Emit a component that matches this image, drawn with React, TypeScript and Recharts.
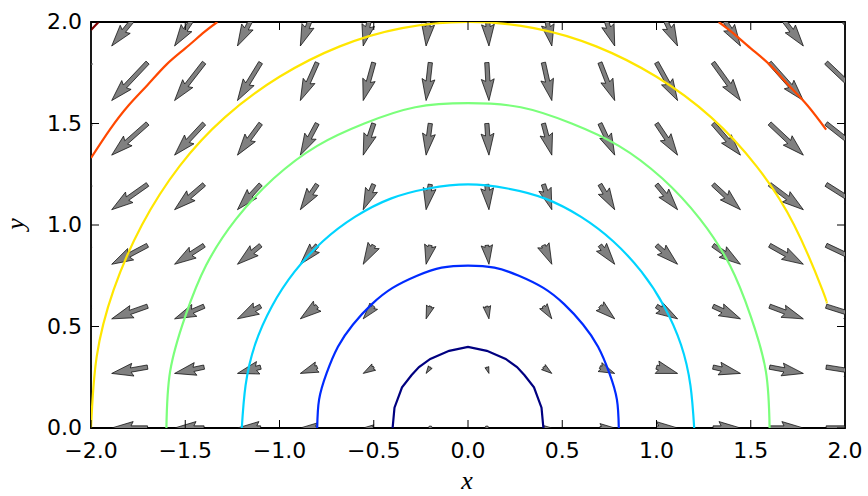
import { ComposedChart, ReferenceArea, Scatter, XAxis, YAxis } from 'recharts'

const xTicks = [-2, -1.5, -1, -0.5, 0, 0.5, 1, 1.5, 2]
const yTicks = [0, 0.5, 1, 1.5, 2]

// quiver: arrow tails sit on this grid (x step 0.3 from -2, y step 0.3 from 0)
const gridX = [-2.0, -1.7, -1.4, -1.1, -0.8, -0.5, -0.2, 0.1, 0.4, 0.7, 1.0, 1.3, 1.6, 1.9]
const gridY = [0.0, 0.3, 0.6, 0.9, 1.2, 1.5, 1.8, 2.1]
// horizontal component per column, vertical component per row
const arrowU = [-2.0, -1.7, -1.4, -1.1, -0.8, -0.5, -0.2, 0.1, 0.4, 0.7, 1.0, 1.3, 1.6, 1.9]
const arrowV = [0.0, -0.3, -0.6, -0.9, -1.2, -1.5, -1.8, -2.1]

// contour lines, one list per level
const level04: [number, number][] = [
  [-0.4, 0.0], [-0.39, 0.1], [-0.35, 0.2], [-0.3, 0.26], [-0.26, 0.3], [-0.2, 0.34],
  [-0.1, 0.38], [0.0, 0.4], [0.1, 0.38], [0.2, 0.34], [0.26, 0.3], [0.3, 0.26],
  [0.35, 0.2], [0.39, 0.1], [0.4, 0.0],
]
const level08: [number, number][] = [
  [-0.8, 0.0], [-0.79, 0.14], [-0.75, 0.27], [-0.69, 0.4], [-0.61, 0.51], [-0.51, 0.61],
  [-0.4, 0.69], [-0.27, 0.75], [-0.14, 0.79], [0.0, 0.8], [0.14, 0.79], [0.27, 0.75],
  [0.4, 0.69], [0.51, 0.61], [0.61, 0.51], [0.69, 0.4], [0.75, 0.27], [0.79, 0.14], [0.8, 0.0],
]
const level12: [number, number][] = [
  [-1.2, 0.0], [-1.18, 0.21], [-1.13, 0.41], [-1.04, 0.6], [-0.92, 0.77], [-0.77, 0.92],
  [-0.6, 1.04], [-0.41, 1.13], [-0.21, 1.18], [0.0, 1.2], [0.21, 1.18], [0.41, 1.13],
  [0.6, 1.04], [0.77, 0.92], [0.92, 0.77], [1.04, 0.6], [1.13, 0.41], [1.18, 0.21], [1.2, 0.0],
]
const level16: [number, number][] = [
  [-1.6, 0.0], [-1.58, 0.28], [-1.5, 0.55], [-1.39, 0.8], [-1.23, 1.03], [-1.03, 1.23],
  [-0.8, 1.39], [-0.55, 1.5], [-0.28, 1.58], [0.0, 1.6], [0.28, 1.58], [0.55, 1.5],
  [0.8, 1.39], [1.03, 1.23], [1.23, 1.03], [1.39, 0.8], [1.5, 0.55], [1.58, 0.28], [1.6, 0.0],
]
const level20: [number, number][] = [
  [-2.0, 0.0], [-1.97, 0.35], [-1.88, 0.68], [-1.73, 1.0], [-1.53, 1.29], [-1.29, 1.53],
  [-1.0, 1.73], [-0.68, 1.88], [-0.35, 1.97], [0.0, 2.0], [0.35, 1.97], [0.68, 1.88],
  [1.0, 1.73], [1.29, 1.53], [1.53, 1.29], [1.73, 1.0], [1.88, 0.68], [1.9, 0.62],
]
const level24Left: [number, number][] = [
  [-2.0, 1.33], [-1.9, 1.47], [-1.8, 1.59], [-1.7, 1.69], [-1.6, 1.79], [-1.5, 1.87],
  [-1.4, 1.95], [-1.33, 2.0],
]
const level24Right: [number, number][] = [
  [1.33, 2.0], [1.4, 1.95], [1.5, 1.87], [1.6, 1.79], [1.7, 1.69], [1.8, 1.59], [1.9, 1.47],
]
const level28: [number, number][] = [
  [-2.0, 1.96], [-1.96, 2.0],
]

const contours = [
  { pts: level04, color: '#000080', joint: 'linear' },
  { pts: level08, color: '#002bff', joint: 'natural' },
  { pts: level12, color: '#00d4ff', joint: 'natural' },
  { pts: level16, color: '#7bff7b', joint: 'natural' },
  { pts: level20, color: '#ffe600', joint: 'natural' },
  { pts: level24Left, color: '#ff4800', joint: 'natural' },
  { pts: level24Right, color: '#ff4800', joint: 'natural' },
  { pts: level28, color: '#800000', joint: 'linear' },
]

const PLOT_TOP = 22
const PLOT_BOTTOM = 428
const PLOT_LEFT = 91
const PLOT_RIGHT = 845
const TICK_LEN = 8
const PX_PER_UNIT = 21.1 // arrow length per unit of magnitude
const SHAFT = 4.3 // shaft width in px

const arrows = gridY.flatMap((y, j) =>
  gridX.map((x, i) => ({ x, y, u: arrowU[i], v: arrowV[j] })),
)

const fmt = (v: number) => v.toFixed(1).replace('-', '\u2212')

function Arrow(props: any) {
  const { cx, cy, payload } = props
  const dx = payload.u * PX_PER_UNIT
  const dy = -payload.v * PX_PER_UNIT
  const len = Math.hypot(dx, dy)
  const L = len / SHAFT
  let pts: [number, number][]
  if (L < 1) {
    // too short: little dot, like matplotlib does
    pts = []
    for (let k = 0; k < 6; k++) {
      const th = (k * Math.PI) / 3
      pts.push([Math.cos(th) * 0.5, Math.sin(th) * 0.5])
    }
  } else if (L < 5) {
    const s = L / 5
    pts = [[0, 0.5], [0.5, 0.5], [0, 1.5], [5, 0], [0, -1.5], [0.5, -0.5], [0, -0.5]].map(
      ([a, b]) => [a * s, b * s] as [number, number],
    )
  } else {
    pts = [[0, 0.5], [L - 4.5, 0.5], [L - 5, 1.5], [L, 0], [L - 5, -1.5], [L - 4.5, -0.5], [0, -0.5]]
  }
  const ax = len > 0 ? dx / len : 1
  const ay = len > 0 ? dy / len : 0
  const d = pts
    .map(([a, b]) => {
      const px = cx + SHAFT * (a * ax - b * ay)
      const py = cy + SHAFT * (a * ay + b * ax)
      return `${px.toFixed(2)},${py.toFixed(2)}`
    })
    .join(' ')
  return <polygon points={d} fill="#808080" stroke="#000" strokeWidth={0.7} strokeLinejoin="miter" />
}

function XTick(props: any) {
  const { x, payload } = props
  return (
    <g>
      <line x1={x} y1={PLOT_BOTTOM} x2={x} y2={PLOT_BOTTOM - TICK_LEN} stroke="#000" strokeWidth={1} />
      <line x1={x} y1={PLOT_TOP} x2={x} y2={PLOT_TOP + TICK_LEN} stroke="#000" strokeWidth={1} />
      <text x={x} y={PLOT_BOTTOM + 30} textAnchor="middle" fontFamily="DejaVu Sans" fontSize={22} fill="#000">
        {fmt(payload.value)}
      </text>
    </g>
  )
}

function YTick(props: any) {
  const { y, payload } = props
  return (
    <g>
      <line x1={PLOT_LEFT} y1={y} x2={PLOT_LEFT + TICK_LEN} y2={y} stroke="#000" strokeWidth={1} />
      <line x1={PLOT_RIGHT} y1={y} x2={PLOT_RIGHT - TICK_LEN} y2={y} stroke="#000" strokeWidth={1} />
      <text x={PLOT_LEFT - 9} y={y + 7} textAnchor="end" fontFamily="DejaVu Sans" fontSize={22} fill="#000">
        {fmt(payload.value)}
      </text>
    </g>
  )
}

export default function App() {
  return (
    <div style={{ position: 'absolute', left: 0, top: 0, width: 868, height: 496, background: '#fff' }}>
      <ComposedChart
        width={868}
        height={496}
        margin={{ top: PLOT_TOP, right: 868 - PLOT_RIGHT, bottom: 0, left: 0 }}
      >
        <XAxis
          type="number"
          dataKey="x"
          domain={[-2, 2]}
          ticks={xTicks}
          interval={0}
          allowDataOverflow
          axisLine={false}
          tickLine={false}
          height={496 - PLOT_BOTTOM}
          tick={<XTick />}
          label={{
            content: () => (
              <text x={467} y={489} textAnchor="middle" fontFamily="Liberation Serif" fontStyle="italic" fontSize={26} fill="#000">
                x
              </text>
            ),
          }}
        />
        <YAxis
          type="number"
          dataKey="y"
          domain={[0, 2]}
          ticks={yTicks}
          interval={0}
          allowDataOverflow
          axisLine={false}
          tickLine={false}
          width={PLOT_LEFT}
          tick={<YTick />}
          label={{
            content: () => (
              <text
                x={24}
                y={224}
                transform="rotate(-90, 24, 224)"
                textAnchor="middle"
                fontFamily="Liberation Serif"
                fontStyle="italic"
                fontSize={26}
                fill="#000"
              >
                y
              </text>
            ),
          }}
        />
        <Scatter data={arrows} shape={<Arrow />} isAnimationActive={false} legendType="none" />
        {contours.map((c, i) => (
          <Scatter
            key={i}
            data={c.pts.map(([x, y]) => ({ x, y }))}
            fill={c.color}
            line={{ stroke: c.color, strokeWidth: 2.2 }}
            lineType="joint"
            lineJointType={c.joint as any}
            shape={() => <g />}
            isAnimationActive={false}
            legendType="none"
          />
        ))}
        <ReferenceArea x1={-2} x2={2} y1={0} y2={2} fill="none" stroke="#000" strokeWidth={1.8} />
      </ComposedChart>
    </div>
  )
}
